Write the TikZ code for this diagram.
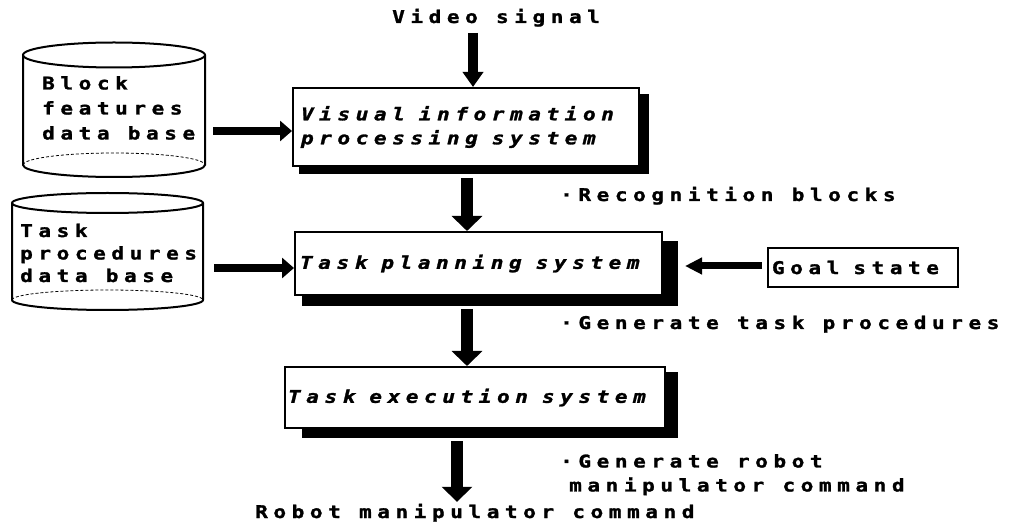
\documentclass[tikz,border=0pt]{standalone}
\usepackage{fontspec}
\usetikzlibrary{arrows.meta}
\newfontfamily\gfont[LetterSpace=32,FakeBold=1.5,FakeStretch=1.2]{DejaVu Sans Mono}
\newcommand\wsp{\hspace*{14pt}}
\pgfdeclarelayer{bg}
\pgfsetlayers{bg,main}
\begin{document}
\begin{tikzpicture}[x=1pt,y=-1pt,
  lbl/.style={font=\gfont\bfseries\fontsize{17.5}{24}\selectfont, inner sep=0pt, anchor=west, text height=12pt, text depth=4pt},
  mlbl/.style={font=\gfont\bfseries\fontsize{17.5}{#1}\selectfont, inner sep=0pt, anchor=north west, align=left},
  sysbox/.style={draw, line width=2pt, fill=white, align=left, inner ysep=0pt,
    font=\gfont\bfseries\itshape\fontsize{17.5}{24}\selectfont},
  goalbox/.style={draw, line width=1.8pt, fill=white, inner sep=0pt,
    font=\gfont\bfseries\fontsize{17.5}{24}\selectfont},
  shadowfill/.style={fill=black},
  cyl/.style={line width=2pt},
  backline/.style={dashed, line width=0.8pt, dash pattern=on 3pt off 2pt},
  dbarea/.style={inner sep=0pt, draw=none},
  vfat/.style={line width=12pt, -{Triangle[length=15pt,width=30pt]}},
  topfat/.style={line width=10pt, -{Triangle[length=15pt,width=20pt]}},
  hfat/.style={line width=8pt, -{Triangle[length=12pt,width=20pt]}},
  gfat/.style={line width=7pt, -{Triangle[length=17pt,width=16pt]}}
]
\useasboundingbox (0,0) rectangle (1012,526);

% ---------- cylinders ----------
\node[dbarea, minimum width=182pt, minimum height=135pt] (db1) at (114,109.5) {};
\draw[cyl] (114,55) ellipse[x radius=91, y radius=12.5];
\draw[cyl] (23,55) -- (23,165) arc[start angle=180, end angle=0, x radius=91, y radius=12] -- (205,55);
\draw[backline] (23,165) arc[start angle=180, end angle=360, x radius=91, y radius=12];
\node[mlbl=25] (db1t) at (42,76) {Block\\features\\data base};

\node[dbarea, minimum width=191pt, minimum height=117pt] (db2) at (107.5,251.5) {};
\draw[cyl] (107.5,203) ellipse[x radius=95.5, y radius=10];
\draw[cyl] (12,203) -- (12,300) arc[start angle=180, end angle=0, x radius=95.5, y radius=10] -- (203,203);
\draw[backline] (12,300) arc[start angle=180, end angle=360, x radius=95.5, y radius=10];
\node[mlbl=22.5] (db2t) at (20,223.5) {Task\\procedures\\data base};

% ---------- system boxes ----------
\node[sysbox, minimum width=346pt, minimum height=78pt, inner xsep=8pt, text width=330pt] (vis) at (466,127) {Visual\wsp information\\processing\wsp system};
\node[sysbox, minimum width=367pt, minimum height=63pt, inner xsep=5pt, text width=357pt] (task) at (478.5,263.5) {Task\wsp planning\wsp system};
\node[sysbox, minimum width=380pt, minimum height=61pt, inner xsep=3pt, text width=374pt] (exec) at (475,397.5) {Task\wsp execution\wsp system};
\node[goalbox, minimum width=190pt, minimum height=39pt, text width=182pt, align=left] (goal) at (863,267.5) {Goal\wsp state};

\begin{pgfonlayer}{bg}
  \fill[shadowfill] ([shift={(7,7)}]vis.north west) rectangle ([shift={(9,7)}]vis.south east);
  \fill[shadowfill] ([shift={(8,10)}]task.north west) rectangle ([shift={(15,10)}]task.south east);
  \fill[shadowfill] ([shift={(18,6)}]exec.north west) rectangle ([shift={(12,9)}]exec.south east);
\end{pgfonlayer}

% ---------- labels ----------
\node[lbl] (vsig) at (392,19) {Video signal};
\node[lbl] (recog) at (560,197) {·Recognition blocks};
\node[lbl] (gentask) at (560,325) {·Generate task procedures};
\node[mlbl=24] (genrob) at (560,454) {·Generate robot\\\hspace*{9pt}manipulator command};
\node[lbl] (robot) at (255,514) {Robot manipulator command};

% ---------- arrows ----------
\coordinate (vtop) at (473,33);
\draw[topfat] (vtop) -- (vtop |- vis.north);

\coordinate (v2t) at ([xshift=1pt,yshift=-11pt]vis.south);
\draw[vfat] (v2t) -- (v2t |- task.north);

\coordinate (t2e) at ([xshift=-11.5pt,yshift=-13pt]task.south);
\draw[vfat] (t2e) -- (t2e |- exec.north);

\coordinate (e2r) at ([xshift=-18pt,yshift=-12pt]exec.south);
\draw[vfat, shorten >=4pt] (e2r) -- (e2r |- robot.north);

\coordinate (c1) at ([xshift=8pt,yshift=-21.5pt]db1.east);
\draw[hfat] (c1) -- (c1 -| vis.west);

\coordinate (c2) at ([xshift=11pt,yshift=-16.5pt]db2.east);
\draw[hfat] (c2) -- (c2 -| task.west);

\coordinate (g1) at ([xshift=-5pt,yshift=1.5pt]goal.west);
\coordinate (g2) at ([xshift=22pt]task.east);
\draw[gfat] (g1) -- (g1 -| g2);
\end{tikzpicture}
\end{document}
